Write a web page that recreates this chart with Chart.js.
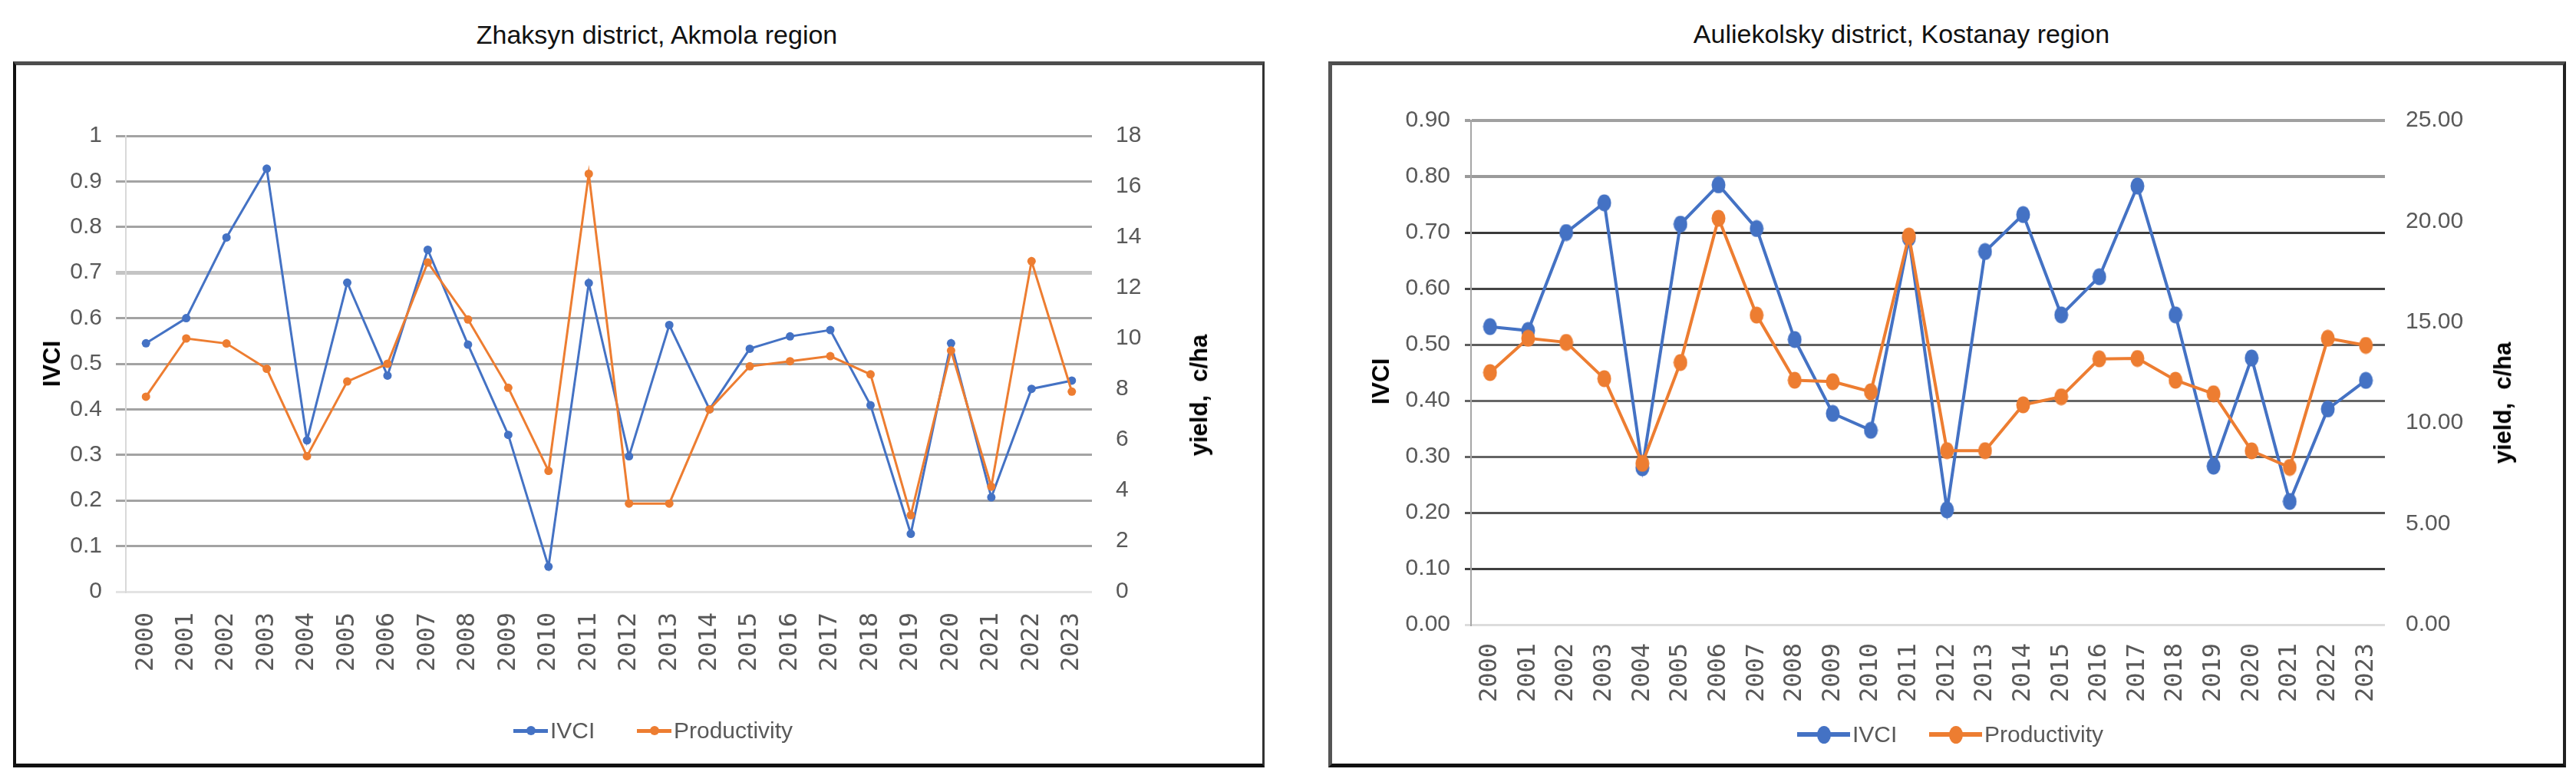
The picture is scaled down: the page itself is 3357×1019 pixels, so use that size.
<!DOCTYPE html>
<html>
<head>
<meta charset="utf-8">
<script src="https://cdn.jsdelivr.net/npm/chart.js@4.4.1/dist/chart.umd.min.js"></script>
<style>
  html, body { margin: 0; padding: 0; background: #fff; }
  body { width: 3357px; height: 1019px; position: relative; overflow: hidden; font-family: 'Liberation Sans', Arial, sans-serif; }
  .panel { position: absolute; box-sizing: border-box; }
  .wrap { position: absolute; }
  .txt { position: absolute; white-space: pre; transform: translate(-50%, -50%); }
  .title { font-size: 34px; color: #111; }
  .axt { font-size: 31px; font-weight: bold; color: #000; transform: translate(-50%, -50%) rotate(-90deg); }
  .leg { position: absolute; height: 40px; }
  .leg .ln { position: absolute; }
  .leg .mk { position: absolute; border-radius: 50%; }
  .leg .lt { position: absolute; font-size: 30px; color: #595959; top: 50%; transform: translateY(-50%); white-space: pre; }
</style>
</head>
<body>

<div class="txt title" style="left:856px; top:45px;">Zhaksyn district, Akmola region</div>
<div class="txt title" style="left:2478px; top:44px;">Auliekolsky district, Kostanay region</div>

<div class="panel" style="left:17px; top:80px; width:1631px; height:920px; border-top:5px solid #4d4d4d; border-left:4px solid #111; border-bottom:5px solid #111; border-right:3px solid #333;"></div>
<div class="panel" style="left:1731px; top:80px; width:1613px; height:920px; border-top:5px solid #4d4d4d; border-left:5px solid #555; border-bottom:5px solid #111; border-right:4px solid #222;"></div>

<div class="wrap" id="w1" style="left:17px; top:80px; width:1631px; height:920px;"><canvas id="c1"></canvas></div>
<div class="wrap" id="w2" style="left:1731px; top:80px; width:1613px; height:920px;"><canvas id="c2"></canvas></div>

<div class="txt axt" style="left:68px; top:474px;">IVCI</div>
<div class="txt axt" style="left:1563px; top:515px;">yield,  c/ha</div>
<div class="txt axt" style="left:1800px; top:497px;">IVCI</div>
<div class="txt axt" style="left:3262px; top:525px;">yield,  c/ha</div>

<div id="leg1"></div>
<div id="leg2"></div>

<script>
// ---------- DATA ----------
const years = ['2000','2001','2002','2003','2004','2005','2006','2007','2008','2009','2010','2011',
               '2012','2013','2014','2015','2016','2017','2018','2019','2020','2021','2022','2023'];

// Zhaksyn district, Akmola region
const zhaksynIVCI = [0.545, 0.60, 0.777, 0.928, 0.332, 0.678, 0.474, 0.75, 0.542, 0.344, 0.055, 0.677,
                     0.297, 0.585, 0.40, 0.533, 0.56, 0.574, 0.409, 0.127, 0.545, 0.207, 0.445, 0.463];
const zhaksynProd = [7.7, 10.0, 9.8, 8.8, 5.35, 8.3, 9.0, 13.0, 10.75, 8.05, 4.77, 16.5,
                     3.48, 3.48, 7.2, 8.9, 9.1, 9.3, 8.58, 3.02, 9.52, 4.15, 13.05, 7.9];

// Auliekolsky district, Kostanay region
const auliekolIVCI = [0.532, 0.525, 0.70, 0.753, 0.28, 0.715, 0.785, 0.707, 0.509, 0.377, 0.347, 0.69,
                      0.205, 0.666, 0.732, 0.553, 0.621, 0.783, 0.553, 0.283, 0.476, 0.22, 0.385, 0.436];
const auliekolProd = [12.5, 14.2, 14.0, 12.2, 8.0, 13.0, 20.15, 15.35, 12.12, 12.05, 11.55, 19.27,
                      8.63, 8.63, 10.9, 11.3, 13.18, 13.2, 12.12, 11.45, 8.62, 7.8, 14.2, 13.85];

const seriesNames = ['IVCI', 'Productivity'];
// ---------------------------

const BLUE = '#4472C4', ORANGE = '#ED7D31';
const TICK_COLOR = '#595959';
const SANS = "'Liberation Sans', Arial, sans-serif";
const MONO = "'DejaVu Sans Mono', monospace";

function ellipseImg(color, w, h) {
  const c = document.createElement('canvas');
  c.width = w; c.height = h;
  const g = c.getContext('2d');
  g.fillStyle = color;
  g.beginPath();
  g.ellipse(w / 2, h / 2, w / 2 - 0.5, h / 2 - 0.5, 0, 0, Math.PI * 2);
  g.fill();
  return c;
}

function buildChart(canvasId, cfg) {
  const fixW = (w) => (s) => { s.width = w; };
  const fixH = (h) => (s) => { s.height = h; };
  return new Chart(document.getElementById(canvasId), {
    type: 'line',
    data: {
      labels: years,
      datasets: [
        { label: seriesNames[0], data: cfg.ivci, yAxisID: 'y', order: 1,
          borderColor: BLUE, backgroundColor: BLUE, borderWidth: cfg.lineW,
          pointStyle: cfg.ptBlue, pointRadius: cfg.ptR, pointBackgroundColor: BLUE, pointBorderColor: BLUE,
          pointBorderWidth: 0, tension: 0, fill: false },
        { label: seriesNames[1], data: cfg.prod, yAxisID: 'y1', order: 0,
          borderColor: ORANGE, backgroundColor: ORANGE, borderWidth: cfg.lineW,
          pointStyle: cfg.ptOrange, pointRadius: cfg.ptR, pointBackgroundColor: ORANGE, pointBorderColor: ORANGE,
          pointBorderWidth: 0, tension: 0, fill: false }
      ]
    },
    options: {
      responsive: true,
      maintainAspectRatio: false,
      devicePixelRatio: 1,
      animation: false,
      layout: { padding: { left: 0, right: 0, top: cfg.padTop, bottom: 0 } },
      plugins: { legend: { display: false }, title: { display: false }, tooltip: { enabled: false } },
      scales: {
        x: {
          offset: true,
          grid: { display: false, drawTicks: false },
          border: { display: false },
          ticks: { autoSkip: false, minRotation: 90, maxRotation: 90, padding: cfg.xPad,
                   color: TICK_COLOR, font: { family: MONO, size: 32 } },
          afterFit: fixH(cfg.xH)
        },
        y: {
          position: 'left',
          min: 0, max: cfg.yMax,
          ticks: { stepSize: cfg.yStep, padding: cfg.yPad, color: TICK_COLOR,
                   font: { family: SANS, size: 30 }, callback: cfg.yFmt },
          grid: { color: (c) => cfg.gridColor(c.index), lineWidth: (c) => cfg.gridWidth(c.index),
                  tickLength: cfg.tickLen, drawTicks: true },
          border: { display: true, color: cfg.axisColor, width: 2 },
          afterFit: fixW(cfg.yW)
        },
        y1: {
          position: 'right',
          min: 0, max: cfg.y1Max,
          ticks: { stepSize: cfg.y1Step, padding: cfg.y1Pad, color: TICK_COLOR,
                   font: { family: SANS, size: 30 }, callback: cfg.y1Fmt },
          grid: { drawOnChartArea: false, drawTicks: false },
          border: { display: false },
          afterFit: fixW(cfg.y1W)
        }
      }
    }
  });
}

// Left chart
const leftGrid = ['#e3e3e3','#a3a3a3','#a3a3a3','#a3a3a3','#a3a3a3','#a3a3a3','#a3a3a3','#c4c4c4','#a3a3a3','#a3a3a3','#a3a3a3'];
buildChart('c1', {
  ivci: zhaksynIVCI, prod: zhaksynProd,
  lineW: 3, ptR: 5.5, ptBlue: 'circle', ptOrange: 'circle',
  padTop: 97, xH: 229, xPad: 27,
  yMax: 1, yStep: 0.1, yPad: 18, tickLen: 13, yW: 147,
  yFmt: (v) => String(Math.round(v * 10) / 10),
  gridColor: (i) => leftGrid[i] || '#a3a3a3',
  gridWidth: (i) => (i === 7 ? 5 : 3),
  axisColor: '#d9d9d9',
  y1Max: 18, y1Step: 2, y1Pad: 31, y1W: 225,
  y1Fmt: (v) => String(Math.round(v))
});

// Right chart
const rightGrid = ['#dcdcdc','#3f3f3f','#555555','#646464','#666666','#5f5f5f','#444444','#3a3a3a','#9a9a9a','#a0a0a0'];
buildChart('c2', {
  ivci: auliekolIVCI, prod: auliekolProd,
  lineW: 4, ptR: 11, ptBlue: ellipseImg(BLUE, 19, 23), ptOrange: ellipseImg(ORANGE, 19, 23),
  padTop: 77, xH: 186, xPad: 24,
  yMax: 0.9, yStep: 0.1, yPad: 19, tickLen: 8, yW: 186,
  yFmt: (v) => v.toFixed(2),
  gridColor: (i) => rightGrid[i] || '#555555',
  gridWidth: (i) => (i >= 8 ? 4 : 3),
  axisColor: '#a6a6a6',
  y1Max: 25, y1Step: 5, y1Pad: 27, y1W: 236,
  y1Fmt: (v) => v.toFixed(2)
});

// HTML legends (line + marker samples, as in the original)
function legend(id, x, y, items) {
  const root = document.getElementById(id);
  items.forEach((it) => {
    const d = document.createElement('div');
    d.className = 'leg';
    d.style.left = it.x + 'px';
    d.style.top = (y - 20) + 'px';
    d.style.width = '300px';
    const ln = document.createElement('div');
    ln.className = 'ln';
    ln.style.left = '0px'; ln.style.width = it.lw + 'px';
    ln.style.top = (20 - it.lh / 2) + 'px'; ln.style.height = it.lh + 'px';
    ln.style.background = it.color;
    const mk = document.createElement('div');
    mk.className = 'mk';
    mk.style.width = it.mw + 'px'; mk.style.height = it.mh + 'px';
    mk.style.left = (it.lw / 2 - it.mw / 2) + 'px';
    mk.style.top = (20 - it.mh / 2) + 'px';
    mk.style.background = it.color;
    const t = document.createElement('div');
    t.className = 'lt';
    t.style.left = (it.lw + 3) + 'px';
    t.textContent = it.text;
    d.appendChild(ln); d.appendChild(mk); d.appendChild(t);
    root.appendChild(d);
  });
}
legend('leg1', 0, 952, [
  { x: 669, lw: 45, lh: 5, mw: 12, mh: 12, color: BLUE, text: seriesNames[0] },
  { x: 830, lw: 45, lh: 5, mw: 12, mh: 12, color: ORANGE, text: seriesNames[1] }
]);
legend('leg2', 0, 957, [
  { x: 2342, lw: 69, lh: 6, mw: 18, mh: 23, color: BLUE, text: seriesNames[0] },
  { x: 2514, lw: 69, lh: 6, mw: 18, mh: 23, color: ORANGE, text: seriesNames[1] }
]);
</script>
</body>
</html>
